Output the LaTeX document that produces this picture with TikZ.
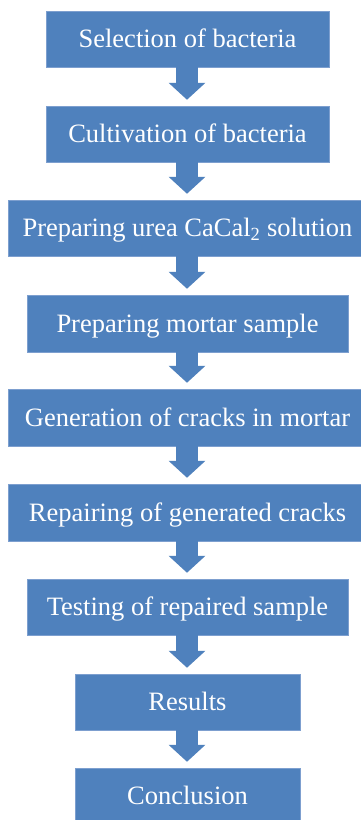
\documentclass[tikz,border=0pt]{standalone}
\usepackage{fontspec}
\setmainfont{Liberation Serif}
\usetikzlibrary{arrows.meta}
\definecolor{boxblue}{HTML}{4F81BD}
\definecolor{boxedge}{HTML}{7D9FCF}
\begin{document}
\begin{tikzpicture}[x=1pt,y=-1pt,
  stepbox/.style={fill=boxblue, draw=boxedge, line width=0.5pt, text=white,
    font=\fontsize{26.5}{30}\selectfont, inner sep=0pt,
    minimum height=56pt, text height=17.5pt, text depth=0pt},
  blockarrow/.style={draw=boxblue, line width=22pt,
    -{Triangle[width=36pt,length=17pt]}, shorten >=6pt}]
\useasboundingbox (0,0) rectangle (360,820);
\fill[white] (0,0) rectangle (360,820);
\coordinate (ax) at (187,0);
\node[stepbox, minimum width=283pt] (b1) at (187.5,39) {Selection of bacteria};
\node[stepbox, minimum width=283pt] (b2) at (187.5,134) {Cultivation of bacteria};
\node[stepbox, minimum width=359pt] (b3) at (187.5,228) {Preparing urea CaCal\textsubscript{2} solution};
\node[stepbox, minimum width=321pt, minimum height=57pt] (b4) at (187.5,323.5) {Preparing mortar sample};
\node[stepbox, minimum width=359pt, minimum height=57pt] (b5) at (187.5,417.5) {Generation of cracks in mortar};
\node[stepbox, minimum width=359pt, minimum height=57pt] (b6) at (187.5,512.5) {Repairing of generated cracks};
\node[stepbox, minimum width=321pt] (b7) at (187.5,607) {Testing of repaired sample};
\node[stepbox, minimum width=225pt] (b8) at (187.5,702) {Results};
\node[stepbox, minimum width=225pt] (b9) at (187.5,796) {Conclusion};
\foreach \a/\b in {b1/b2,b2/b3,b3/b4,b4/b5,b5/b6,b6/b7,b7/b8,b8/b9}
  \draw[blockarrow] (\a.south -| ax) -- (\b.north -| ax);
\end{tikzpicture}
\end{document}
